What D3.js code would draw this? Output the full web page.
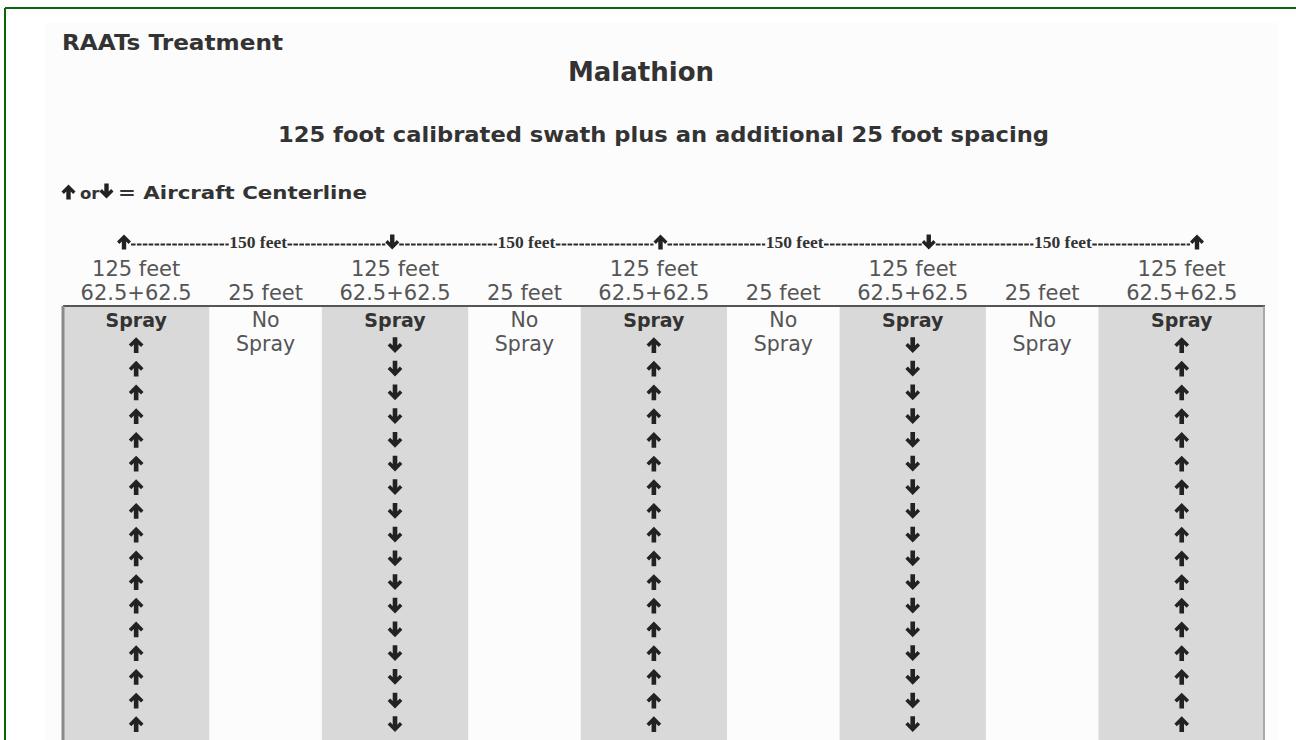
<!DOCTYPE html>
<html>
<head>
<meta charset="utf-8">
<script src="https://cdn.jsdelivr.net/npm/d3@7"></script>
<style>
  body { margin: 0; background: #fff; }
  svg { display: block; }
</style>
</head>
<body>
<script>
// chart data
const columnTypes = ['spray', 'gap', 'spray', 'gap', 'spray', 'gap', 'spray', 'gap', 'spray']
const passDirections = ['up', 'down', 'up', 'down', 'up']
const headerTop = ['125 feet', '', '125 feet', '', '125 feet', '', '125 feet', '', '125 feet']
const headerBottom = ['62.5+62.5', '25 feet', '62.5+62.5', '25 feet', '62.5+62.5', '25 feet', '62.5+62.5', '25 feet', '62.5+62.5']
const bodyLabels = [['Spray'], ['No', 'Spray'], ['Spray'], ['No', 'Spray'], ['Spray'], ['No', 'Spray'], ['Spray'], ['No', 'Spray'], ['Spray']]
const spacingLabels = ['150 feet', '150 feet', '150 feet', '150 feet']
const arrowsPerPass = 18

const title = 'RAATs Treatment'
const subtitle = 'Malathion'
const caption = '125 foot calibrated swath plus an additional 25 foot spacing'
const legendText = '= Aircraft Centerline'

const width = 1296, height = 740
const tableLeft = 63, tableRight = 1265, tableTop = 306

const svg = d3.select('body').append('svg')
  .attr('width', width)
  .attr('height', height)

// scanned page tint + green frame
svg.append('rect').attr('x', 45).attr('y', 23).attr('width', 1233).attr('height', 717).attr('fill', '#fcfcfc')
svg.append('line').attr('x1', 5).attr('x2', width).attr('y1', 8).attr('y2', 8)
  .attr('stroke', '#0b650b').attr('stroke-width', 2)
svg.append('line').attr('x1', 5).attr('x2', 5).attr('y1', 8).attr('y2', height)
  .attr('stroke', '#0b650b').attr('stroke-width', 2)

// bold arrow glyph, pointing up, centred on 0,0
function arrowPath(s) {
  let pts = [[0, -7.5], [7, -0.4], [4.6, 2], [2.2, -0.5], [2.2, 7.5], [-2.2, 7.5], [-2.2, -0.5], [-4.6, 2], [-7, -0.4]]
  return 'M' + pts.map(p => [p[0] * s, p[1] * s].join(',')).join('L') + 'Z'
}

function drawArrow(g, x, y, dir, s) {
  g.append('path')
    .attr('d', arrowPath(s))
    .attr('transform', `translate(${x},${y})` + (dir === 'down' ? ' rotate(180)' : ''))
    .attr('fill', '#222')
}

// column layout: spray bands wider than the no-spray gaps (not to scale)
let weights = columnTypes.map((t, i) => t === 'spray' ? (i === columnTypes.length - 1 ? 1.48 : 1.3) : 1)
let edges = [0]
weights.forEach(w => edges.push(edges[edges.length - 1] + w))
const x = d3.scaleLinear().domain([0, edges[edges.length - 1]]).range([tableLeft, tableRight])

let cols = columnTypes.map((t, i) => ({
  type: t,
  x0: x(edges[i]),
  x1: x(edges[i + 1]),
  cx: (x(edges[i]) + x(edges[i + 1])) / 2,
  top: headerTop[i],
  bottom: headerBottom[i],
  body: bodyLabels[i]
}))

let sprayCols = cols.filter(d => d.type === 'spray')
sprayCols.forEach((d, i) => d.dir = passDirections[i])

// titles (the scan's typeface is wider than DejaVu, so stretch to its width)
svg.append('text').attr('x', 62).attr('y', 50).text(title)
  .attr('textLength', 221).attr('lengthAdjust', 'spacingAndGlyphs')
  .attr('font-family', 'DejaVu Sans').attr('font-weight', 'bold').attr('font-size', 21).attr('fill', '#333')
svg.append('text').attr('x', 641).attr('y', 81).attr('text-anchor', 'middle').text(subtitle)
  .attr('font-family', 'DejaVu Sans').attr('font-weight', 'bold').attr('font-size', 26).attr('fill', '#333')
svg.append('text').attr('x', 278).attr('y', 142).text(caption)
  .attr('textLength', 771).attr('lengthAdjust', 'spacingAndGlyphs')
  .attr('font-family', 'DejaVu Sans').attr('font-weight', 'bold').attr('font-size', 20.5).attr('fill', '#333')

// legend
let legend = svg.append('g')
drawArrow(legend, 68.5, 192, 'up', 1.0)
legend.append('text').attr('x', 80).attr('y', 199).text('or')
  .attr('font-family', 'DejaVu Sans').attr('font-weight', 'bold').attr('font-size', 16.5).attr('fill', '#333')
drawArrow(legend, 106.5, 191, 'down', 1.0)
legend.append('text').attr('x', 118).attr('y', 199).text(legendText)
  .attr('textLength', 249).attr('lengthAdjust', 'spacingAndGlyphs')
  .attr('font-family', 'DejaVu Sans').attr('font-weight', 'bold').attr('font-size', 18.5).attr('fill', '#333')

// 150 feet dimension line
const dimX = d3.scalePoint().domain(d3.range(passDirections.length)).range([124, 1197])
const dimY = 242
let dim = svg.append('g')
passDirections.forEach((dir, i) => drawArrow(dim, dimX(i), dimY, dir, 1.0))
spacingLabels.forEach((lab, i) => {
  let a = dimX(i), b = dimX(i + 1), m = (a + b) / 2
  let t = dim.append('text').attr('x', m).attr('y', dimY + 6).attr('text-anchor', 'middle').text(lab)
    .attr('font-family', 'Liberation Serif').attr('font-weight', 'bold').attr('font-size', 17.5).attr('fill', '#333')
  let half = t.node().getComputedTextLength() / 2 + 0.5
  dim.append('line').attr('x1', a + 7).attr('x2', m - half).attr('y1', dimY + 2.5).attr('y2', dimY + 2.5)
    .attr('stroke', '#2a2a2a').attr('stroke-width', 2).attr('stroke-dasharray', '4.6,1.3')
  dim.append('line').attr('x1', m + half).attr('x2', b - 7).attr('y1', dimY + 2.5).attr('y2', dimY + 2.5)
    .attr('stroke', '#2a2a2a').attr('stroke-width', 2).attr('stroke-dasharray', '4.6,1.3')
})

// header labels
let head = svg.append('g').attr('font-family', 'DejaVu Sans').attr('font-size', 21).attr('fill', '#555')
  .attr('text-anchor', 'middle')
head.selectAll('.top').data(cols.filter(d => d.top)).enter().append('text')
  .attr('x', d => d.cx).attr('y', 276).text(d => d.top)
head.selectAll('.bottom').data(cols).enter().append('text')
  .attr('x', d => d.cx).attr('y', 300).text(d => d.bottom)

// spray bands
svg.selectAll('.band').data(sprayCols).enter().append('rect')
  .attr('x', d => d.x0).attr('width', d => d.x1 - d.x0)
  .attr('y', tableTop).attr('height', height - tableTop)
  .attr('fill', '#d9d9d9')

// table frame
svg.append('line').attr('x1', tableLeft).attr('x2', tableRight).attr('y1', tableTop).attr('y2', tableTop)
  .attr('stroke', '#555').attr('stroke-width', 1.8)
svg.append('line').attr('x1', tableLeft).attr('x2', tableLeft).attr('y1', tableTop).attr('y2', height)
  .attr('stroke', '#8a8a8a').attr('stroke-width', 3)
svg.append('line').attr('x1', tableRight - 1).attr('x2', tableRight - 1).attr('y1', tableTop).attr('y2', height)
  .attr('stroke', '#999').attr('stroke-width', 1.5)

// body labels
cols.forEach(d => {
  d.body.forEach((lab, j) => {
    let t = svg.append('text').attr('x', d.cx).attr('y', 327 + j * 24).attr('text-anchor', 'middle').text(lab)
      .attr('font-family', 'DejaVu Sans')
    if (d.type === 'spray') t.attr('font-weight', 'bold').attr('fill', '#333').attr('font-size', 19)
    else t.attr('fill', '#555').attr('font-size', 20.5)
  })
})

// centerline arrows
const arrowY = d3.scaleLinear().domain([0, arrowsPerPass - 1]).range([345, 345 + (arrowsPerPass - 1) * 23.7])
let arrows = svg.append('g')
sprayCols.forEach(d => {
  d3.range(arrowsPerPass).forEach(k => drawArrow(arrows, d.cx, arrowY(k), d.dir, 1.05))
})
</script>
</body>
</html>
